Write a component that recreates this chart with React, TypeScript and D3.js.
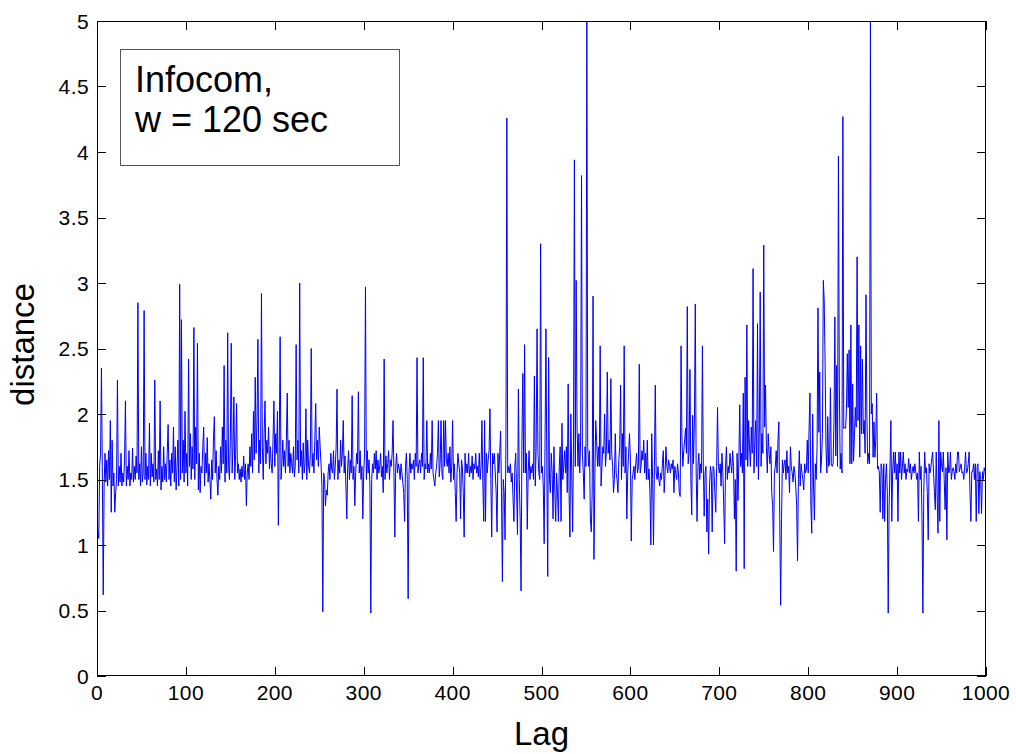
import React from 'react';
import * as d3 from 'd3';

// distance values per lag (lags 0..1000)
const seg0 = [
  1.25,1.10,1.05,1.60,1.70,2.35,1.55,0.62,1.45,1.70,
  1.48,1.65,1.45,1.72,1.50,1.95,1.25,1.80,1.45,1.55,
  1.25,1.40,1.50,2.26,1.45,1.60,1.48,1.70,1.45,1.55,
  1.48,1.65,2.10,1.45,1.60,1.50,1.72,1.45,1.55,1.50,
  1.74,1.48,1.60,1.50,1.68,1.55,2.85,1.50,1.62,1.45,
  1.75,1.48,1.55,2.79,1.50,1.70,1.46,1.60,1.50,1.93,
  1.45,1.70,1.52,1.62,1.48,2.26,1.50,1.58,1.45,1.72,
  1.50,2.10,1.42,1.60,1.48,1.75,1.50,1.62,1.48,1.70,
  1.92,1.50,1.65,1.45,1.70,1.55,1.90,1.48,1.75,1.42,
  1.60,1.80,1.45,2.99,1.50,2.72,1.55,1.80,1.48,2.02,
];
const seg1 = [
  1.55,1.70,1.45,2.42,1.60,1.85,1.50,1.75,1.58,2.66,
  1.50,1.90,1.62,2.54,1.42,1.70,1.40,1.60,1.55,1.75,
  1.90,1.45,1.70,1.55,1.82,1.48,1.62,1.50,1.35,1.65,
  1.50,1.80,1.98,1.55,1.72,1.50,1.38,1.60,1.50,1.75,
  1.55,1.90,1.62,2.37,1.48,1.80,1.55,2.62,1.60,1.50,
  1.80,2.54,1.55,1.75,2.13,1.50,1.70,2.08,1.55,1.62,
  1.50,1.58,1.48,1.60,1.52,1.68,1.50,1.62,1.30,1.55,
  1.62,1.50,1.75,1.60,1.85,1.55,2.02,1.65,2.28,1.70,
  1.95,2.57,1.55,1.80,1.62,2.92,1.75,1.50,1.85,2.10,
  1.62,1.80,1.70,1.90,1.58,1.75,1.62,1.55,1.80,2.10,
];
const seg2 = [
  1.60,1.85,1.70,2.02,1.15,1.75,2.59,1.50,1.62,1.80,
  1.60,1.72,1.55,1.80,2.16,1.60,1.80,1.55,1.70,1.62,
  1.55,1.75,1.52,1.60,2.53,1.65,1.80,1.55,3.00,1.60,
  1.72,1.50,1.78,1.55,1.62,2.04,1.50,1.80,1.60,1.55,
  1.70,2.50,1.60,1.70,1.55,1.80,2.08,1.65,1.80,1.60,
  1.90,1.75,1.62,1.45,0.49,1.55,1.50,1.30,1.42,1.38,
  1.55,1.62,1.50,1.70,1.58,1.55,1.72,1.50,1.60,1.75,
  2.19,1.50,1.65,1.55,1.80,1.60,1.70,1.95,1.55,1.68,
  1.45,1.20,1.60,1.72,1.50,1.65,1.55,2.14,1.50,1.60,
  1.30,1.55,1.70,1.62,2.17,1.55,1.72,1.50,1.60,1.20,
];
const seg3 = [
  1.55,1.70,2.97,1.50,1.72,1.55,1.65,1.45,0.48,1.50,
  1.62,1.55,1.70,1.58,1.72,1.50,1.65,1.55,1.60,1.70,
  1.52,1.60,1.40,2.42,1.50,1.68,1.55,1.62,1.72,1.50,
  1.65,1.60,1.70,1.95,1.55,1.06,1.60,1.70,1.55,1.62,
  1.58,1.50,1.62,1.55,1.48,1.40,1.18,1.60,1.70,1.50,
  0.59,1.55,1.70,1.55,1.62,1.58,1.65,1.50,1.70,1.60,
  2.43,1.55,1.62,1.65,1.55,1.70,1.60,2.43,1.50,1.62,
  1.58,1.95,1.55,1.62,1.55,1.70,1.58,1.95,1.55,1.50,
  1.45,1.55,1.60,1.70,1.95,1.52,1.62,1.95,1.55,1.50,
  1.95,1.60,1.95,1.65,1.60,1.70,1.55,1.75,1.48,1.60,
];
const seg4 = [
  1.95,1.50,1.62,1.40,1.18,1.55,1.70,1.62,1.55,1.20,
  1.65,1.60,1.40,1.06,1.70,1.55,1.62,1.55,1.70,1.52,
  1.60,1.55,1.68,1.50,1.62,1.58,1.70,1.55,1.60,1.52,
  1.70,1.50,1.60,1.95,1.48,1.18,1.95,1.18,1.70,1.55,
  1.65,1.72,2.04,1.50,1.06,1.70,1.62,1.70,1.55,1.40,
  1.10,1.70,1.55,1.70,1.87,1.40,0.72,1.50,1.40,1.04,
  1.80,4.26,1.55,1.60,1.55,1.62,1.48,1.55,1.35,1.18,
  1.60,1.70,1.40,1.08,2.19,1.50,1.20,0.65,1.80,2.31,
  1.55,2.53,1.55,1.70,1.12,1.55,1.72,1.50,1.60,1.55,
  1.62,1.50,2.29,1.45,1.75,2.65,1.70,1.55,1.50,3.30,
];
const seg5 = [
  1.55,1.60,1.45,1.01,1.80,2.65,1.60,0.76,2.43,1.50,
  1.40,1.70,1.55,1.20,1.75,1.40,1.18,1.55,1.40,1.18,
  1.60,1.75,1.18,1.93,1.50,1.60,1.72,1.55,1.75,1.40,
  2.23,1.40,1.06,2.00,1.55,1.10,1.80,3.94,1.60,3.02,
  1.90,1.60,1.85,1.55,1.80,3.82,1.70,1.55,1.35,1.75,
  1.60,5.00,1.75,1.60,1.72,1.20,1.10,1.40,2.90,0.89,
  1.50,1.95,1.80,1.60,1.75,1.60,2.52,1.45,1.60,1.75,
  1.70,2.00,1.60,1.72,2.32,1.70,1.80,1.65,2.27,1.70,
  1.60,1.40,1.50,1.85,1.55,1.50,1.40,1.65,1.75,2.22,
  1.50,1.85,1.60,2.52,1.55,1.75,1.20,1.55,1.70,1.85,
];
const seg6 = [
  1.65,1.03,1.50,1.55,1.60,1.50,1.62,1.70,1.55,1.60,
  2.38,1.55,1.60,1.72,1.65,1.80,1.55,1.70,1.50,1.80,
  1.50,1.58,1.40,1.00,1.85,1.50,1.00,1.60,2.22,1.55,
  1.50,1.60,1.50,1.45,1.55,1.50,1.62,1.72,1.40,1.55,
  1.75,1.60,1.55,1.65,1.60,1.55,1.62,1.58,1.65,1.40,
  1.60,1.55,1.50,1.62,1.55,1.40,1.37,2.52,1.80,1.60,
  1.72,1.80,1.89,1.70,2.82,1.62,1.70,2.34,1.50,1.23,
  1.99,1.62,1.95,2.84,1.55,1.18,1.60,1.70,1.50,1.62,
  1.55,2.52,1.60,1.22,1.55,1.60,1.10,1.35,0.93,1.45,
  1.60,1.55,1.10,1.60,1.58,1.40,1.25,1.60,2.05,1.60,
];
const seg7 = [
  1.55,1.62,1.45,1.70,1.55,1.30,1.01,1.60,1.75,1.50,
  1.60,1.55,1.70,1.62,1.55,1.72,1.60,1.20,1.50,0.80,
  1.70,1.34,1.65,2.07,1.60,1.70,1.55,2.16,0.82,2.28,
  1.65,2.68,1.60,1.95,1.75,1.60,1.90,1.70,3.11,1.55,
  1.80,1.95,1.60,2.69,1.50,1.85,2.93,1.60,1.85,1.70,
  3.29,1.90,2.22,1.75,1.55,1.85,1.70,1.62,1.75,1.40,
  1.30,0.95,1.55,1.60,1.72,1.55,1.80,1.94,1.20,0.54,
  1.20,1.65,1.55,1.62,1.65,1.50,1.72,1.55,1.60,1.40,
  1.75,1.60,1.55,1.48,1.60,1.55,1.45,1.30,0.88,1.50,
  1.72,1.45,1.62,1.55,1.50,1.42,1.62,1.55,1.58,1.80,
];
const seg8 = [
  1.55,1.89,2.16,1.30,1.09,2.00,1.45,1.19,1.62,1.50,
  1.75,2.81,1.86,2.32,1.55,1.65,1.85,3.02,2.87,2.40,
  1.75,1.55,1.98,1.60,1.62,2.20,1.62,1.60,1.62,1.95,
  2.74,1.68,2.37,1.60,3.97,2.22,1.58,1.70,1.55,4.27,
  1.89,1.90,1.89,2.02,2.46,2.05,2.49,1.62,2.68,1.62,
  2.23,1.64,1.83,2.05,1.90,3.20,1.95,2.68,1.67,2.52,
  1.85,2.42,1.85,1.95,1.70,2.91,2.00,1.62,1.70,1.62,
  5.00,2.00,2.08,1.67,1.94,1.67,1.80,2.16,1.58,1.60,
  1.55,1.25,1.62,1.58,1.20,1.62,1.18,1.50,1.62,1.40,
  0.48,1.30,1.59,1.95,1.18,1.56,1.71,1.55,1.71,1.50,
];
const seg9 = [
  1.62,1.18,1.71,1.55,1.71,1.50,1.60,1.71,1.55,1.62,
  1.50,1.58,1.56,1.66,1.55,1.62,1.50,1.56,1.60,1.55,
  1.62,1.56,1.50,1.55,1.18,1.71,1.50,1.60,1.20,0.48,
  1.40,1.71,1.55,1.59,1.40,1.04,1.62,1.55,1.59,1.66,
  1.71,1.55,1.40,1.27,1.71,1.40,1.09,1.95,1.18,1.71,
  1.62,1.56,1.71,1.50,1.27,1.59,1.04,1.71,1.55,1.56,
  1.71,1.50,1.56,1.59,1.56,1.50,1.62,1.55,1.71,1.71,
  1.56,1.59,1.62,1.55,1.56,1.50,1.59,1.71,1.55,1.56,
  1.62,1.71,1.40,1.18,1.56,1.56,1.62,1.50,1.62,1.18,
  1.60,1.62,1.24,1.56,1.50,1.24,1.56,1.50,1.59,1.56,
  1.50,
];

const distance: number[] = [
  ...seg0, ...seg1, ...seg2, ...seg3, ...seg4,
  ...seg5, ...seg6, ...seg7, ...seg8, ...seg9,
];
const lags: number[] = distance.map((_, i) => i);

const xTicks = [0, 100, 200, 300, 400, 500, 600, 700, 800, 900, 1000];
const yTicks = [0, 0.5, 1, 1.5, 2, 2.5, 3, 3.5, 4, 4.5, 5];
const yTickLabels = ['0', '0.5', '1', '1.5', '2', '2.5', '3', '3.5', '4', '4.5', '5'];
const legendLines = ['Infocom,', 'w = 120 sec'];
const xLabel = 'Lag';
const yLabel = 'distance';

const FONT = '"Liberation Sans", Arial, Helvetica, sans-serif';

export default function App() {
  const W = 1016;
  const H = 754;
  const L = 97, R = 986, T = 21, B = 676;
  const x = d3.scaleLinear().domain([0, 1000]).range([L, R]);
  const y = d3.scaleLinear().domain([0, 5]).range([B, T]);
  const lineGen = d3
    .line<number>()
    .x((_, i) => x(lags[i]))
    .y((d) => y(d));
  const path = lineGen(distance) || '';
  const tick = 9;

  return (
    <svg
      width={W}
      height={H}
      viewBox={`0 0 ${W} ${H}`}
      style={{ position: 'absolute', left: 0, top: 0, background: '#fff' }}
    >
      <rect x={0} y={0} width={W} height={H} fill="#fff" />
      <defs>
        <clipPath id="plotClip">
          <rect x={L} y={T} width={R - L} height={B - T} />
        </clipPath>
      </defs>
      <path
        d={path}
        fill="none"
        stroke="#0000ff"
        strokeWidth={1}
        clipPath="url(#plotClip)"
      />
      {/* axes box */}
      <rect
        x={L + 0.5}
        y={T + 0.5}
        width={R - L - 1}
        height={B - T - 1}
        fill="none"
        stroke="#000"
        strokeWidth={1}
      />
      {/* x ticks */}
      {xTicks.map((t) => {
        const px = Math.round(x(t)) + 0.5;
        return (
          <g key={'x' + t}>
            <line x1={px} x2={px} y1={B} y2={B - tick} stroke="#000" strokeWidth={1} />
            <line x1={px} x2={px} y1={T} y2={T + tick} stroke="#000" strokeWidth={1} />
            <text
              x={x(t)}
              y={700}
              textAnchor="middle"
              fontFamily={FONT}
              fontSize={21}
              letterSpacing={0.4}
              fill="#000"
            >
              {String(t)}
            </text>
          </g>
        );
      })}
      {/* y ticks */}
      {yTicks.map((t, i) => {
        const py = Math.round(y(t)) + 0.5;
        return (
          <g key={'y' + t}>
            <line x1={L} x2={L + tick} y1={py} y2={py} stroke="#000" strokeWidth={1} />
            <line x1={R} x2={R - tick} y1={py} y2={py} stroke="#000" strokeWidth={1} />
            <text
              x={89}
              y={y(t) + 7.5}
              textAnchor="end"
              fontFamily={FONT}
              fontSize={21}
              letterSpacing={0.4}
              fill="#000"
            >
              {yTickLabels[i]}
            </text>
          </g>
        );
      })}
      {/* axis labels */}
      <text
        x={(L + R) / 2}
        y={745}
        textAnchor="middle"
        fontFamily={FONT}
        fontSize={33}
        fill="#000"
      >
        {xLabel}
      </text>
      <text
        transform={`translate(34, ${(T + B) / 2 - 4}) rotate(-90)`}
        textAnchor="middle"
        fontFamily={FONT}
        fontSize={33}
        fill="#000"
      >
        {yLabel}
      </text>
      {/* legend / annotation box */}
      <rect x={120.5} y={49.5} width={279} height={116} fill="#fff" stroke="#555" strokeWidth={1} />
      {legendLines.map((s, i) => (
        <text
          key={s}
          x={135}
          y={92 + i * 40}
          fontFamily={FONT}
          fontSize={36}
          fill="#000"
        >
          {s}
        </text>
      ))}
    </svg>
  );
}
